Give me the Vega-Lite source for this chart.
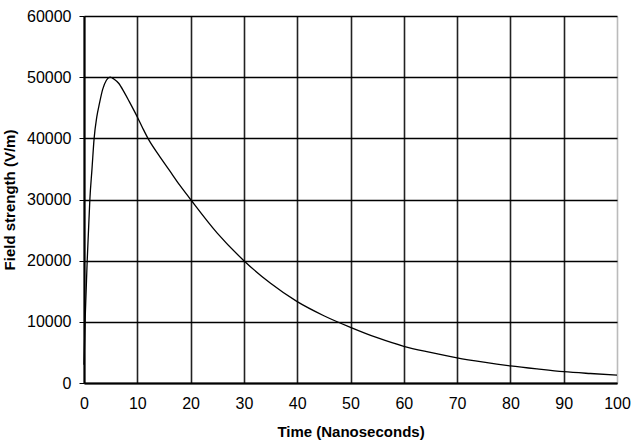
{
  "$schema": "https://vega.github.io/schema/vega-lite/v6.json",
  "width": 533,
  "height": 367,
  "autosize": "none",
  "padding": {"left": 84, "top": 16, "right": 24, "bottom": 63},
  "background": "white",
  "config": {
    "view": {"stroke": null},
    "axis": {
      "labelFont": "Liberation Sans",
      "titleFont": "Liberation Sans",
      "labelColor": "#000",
      "titleColor": "#000",
      "labelFontSize": 16,
      "titleFontSize": 15,
      "titleFontWeight": "bold",
      "domainColor": "#000",
      "domainWidth": 2,
      "tickColor": "#000",
      "gridWidth": 1.6,
      "gridOpacity": 1
    }
  },
  "data": {
    "values": [
      {"t": 0, "e": 3000},
      {"t": 0.2, "e": 10000},
      {"t": 0.4, "e": 15000},
      {"t": 0.6, "e": 20000},
      {"t": 0.85, "e": 25000},
      {"t": 1.1, "e": 30000},
      {"t": 1.5, "e": 35000},
      {"t": 1.9, "e": 40000},
      {"t": 2.4, "e": 43500},
      {"t": 2.9, "e": 45700},
      {"t": 3.5, "e": 48000},
      {"t": 4.2, "e": 49500},
      {"t": 4.9, "e": 50000},
      {"t": 5.6, "e": 49700},
      {"t": 6.5, "e": 49000},
      {"t": 7.5, "e": 47600},
      {"t": 8.5, "e": 46000},
      {"t": 10, "e": 43500},
      {"t": 11, "e": 41700},
      {"t": 12, "e": 40000},
      {"t": 14, "e": 37300},
      {"t": 16, "e": 34800},
      {"t": 18, "e": 32300},
      {"t": 20, "e": 30000},
      {"t": 25, "e": 24500},
      {"t": 30, "e": 20000},
      {"t": 35, "e": 16300},
      {"t": 40, "e": 13300},
      {"t": 45, "e": 11000},
      {"t": 50, "e": 9100},
      {"t": 55, "e": 7400},
      {"t": 60, "e": 6000},
      {"t": 65, "e": 5000},
      {"t": 70, "e": 4100},
      {"t": 75, "e": 3400},
      {"t": 80, "e": 2800},
      {"t": 85, "e": 2300},
      {"t": 90, "e": 1850},
      {"t": 95, "e": 1550},
      {"t": 100, "e": 1300}
    ]
  },
  "mark": {"type": "line", "color": "#000", "strokeWidth": 1.3, "interpolate": "monotone"},
  "encoding": {
    "x": {
      "field": "t",
      "type": "quantitative",
      "scale": {"domain": [0, 100], "nice": false, "zero": false},
      "axis": {
        "title": "Time (Nanoseconds)",
        "values": [0, 10, 20, 30, 40, 50, 60, 70, 80, 90, 100],
        "tickSize": 0,
        "labelPadding": 12,
        "titlePadding": 13,
        "labelFlush": false,
        "gridColor": {"condition": {"test": "datum.value == 100", "value": "#bbbbbb"}, "value": "#222222"}
      }
    },
    "y": {
      "field": "e",
      "type": "quantitative",
      "scale": {"domain": [0, 60000], "nice": false},
      "axis": {
        "title": "Field strength (V/m)",
        "values": [0, 10000, 20000, 30000, 40000, 50000, 60000],
        "format": "d",
        "tickSize": 5,
        "labelPadding": 8,
        "titlePadding": 9,
        "labelFlush": false,
        "gridColor": "#000"
      }
    }
  }
}
